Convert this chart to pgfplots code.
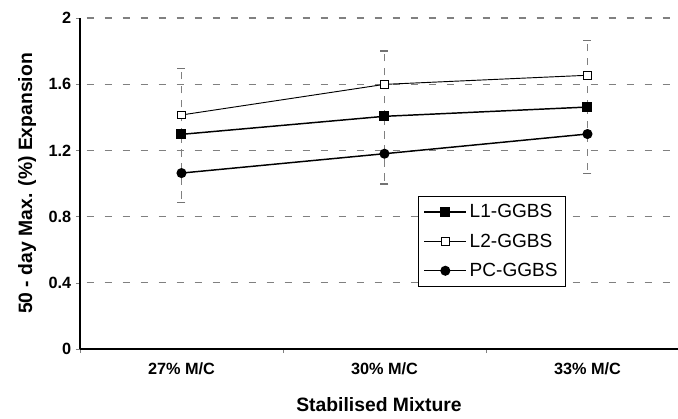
\documentclass[border=0pt]{standalone}
\usepackage{fontspec}
\setmainfont{Liberation Sans}
\usepackage{pgfplots}
\pgfplotsset{compat=1.18}

\begin{document}
\begin{tikzpicture}
\begin{axis}[
    scale only axis,
    width=448.5pt, height=248.25pt,
    xmin=-0.5, xmax=2.446,
    ymin=0, ymax=2,
    axis lines*=left,
    axis line style={line width=1pt},
    tick align=outside,
    major tick length=3pt,
    xtick={-0.5,0.5,1.5},
    xticklabels={},
    extra x ticks={0,1,2},
    extra x tick labels={27\% M/C, 30\% M/C, 33\% M/C},
    extra x tick style={major tick length=0pt, grid=none},
    ytick={0,0.4,0.8,1.2,1.6,2},
    ymajorgrids,
    grid style={black!50, dash pattern=on 5.25pt off 8.25pt, dash phase=-5pt, line width=0.9pt},
    /pgf/number format/assume math mode=true,
    tick label style={font=\bfseries\fontsize{12.2}{14}\selectfont},
    xticklabel style={yshift=-7pt},
    xlabel={Stabilised Mixture},
    ylabel={50 - day Max. (\%) Expansion},
    label style={font=\bfseries\fontsize{14.5}{16}\selectfont},
    xlabel style={at={(axis description cs:0.5,-0.169)}, anchor=center},
    ylabel style={at={(axis description cs:-0.0886,0.5)}, anchor=center},
    legend style={at={(rel axis cs:0.565,0.462)}, anchor=north west,
        draw=black, line width=0.6pt, fill=white,
        font=\fontsize{14.3}{16}\selectfont, row sep=6.5pt,
        inner xsep=4pt, inner ysep=4pt},
    legend cell align=left,
    legend image code/.code={
        \draw[mark repeat=2, mark phase=2] plot coordinates {(0pt,0pt) (15.75pt,0pt) (31.5pt,0pt)};},
]
% error bars (on L1-GGBS, +/-0.4)
\addplot[draw=none, forget plot,
    error bars/.cd, y dir=both, y explicit,
    error bar style={black!50, line width=0.9pt, dash pattern=on 5.5pt off 5pt},
    error mark options={rotate=90, mark size=3pt, black!55, solid, line width=0.9pt}]
    coordinates {
    (0,1.291) +- (0,0.405)
    (1,1.399) +- (0,0.402)
    (2,1.462) +- (0,0.403)
};
\addplot[black, line width=1.1pt, mark=square*, mark size=3.2pt,
    mark options={solid, fill=black}] coordinates {
    (0,1.297) (1,1.406) (2,1.462)
};
\addlegendentry{L1-GGBS}
\addplot[black, line width=0.7pt, mark=square*, mark size=2.9pt,
    mark options={solid, fill=white, line width=0.7pt}] coordinates {
    (0,1.414) (1,1.599) (2,1.654)
};
\addlegendentry{L2-GGBS}
\addplot[black, line width=1.1pt, mark=*, mark size=3.2pt,
    mark options={solid, fill=black}] coordinates {
    (0,1.063) (1,1.180) (2,1.299)
};
\addlegendentry{PC-GGBS}
\end{axis}
\pgfresetboundingbox
\path (current axis.south west) ++(-60pt,-51.75pt) rectangle ([yshift=13.5pt]current axis.north east);
\end{tikzpicture}
\end{document}
